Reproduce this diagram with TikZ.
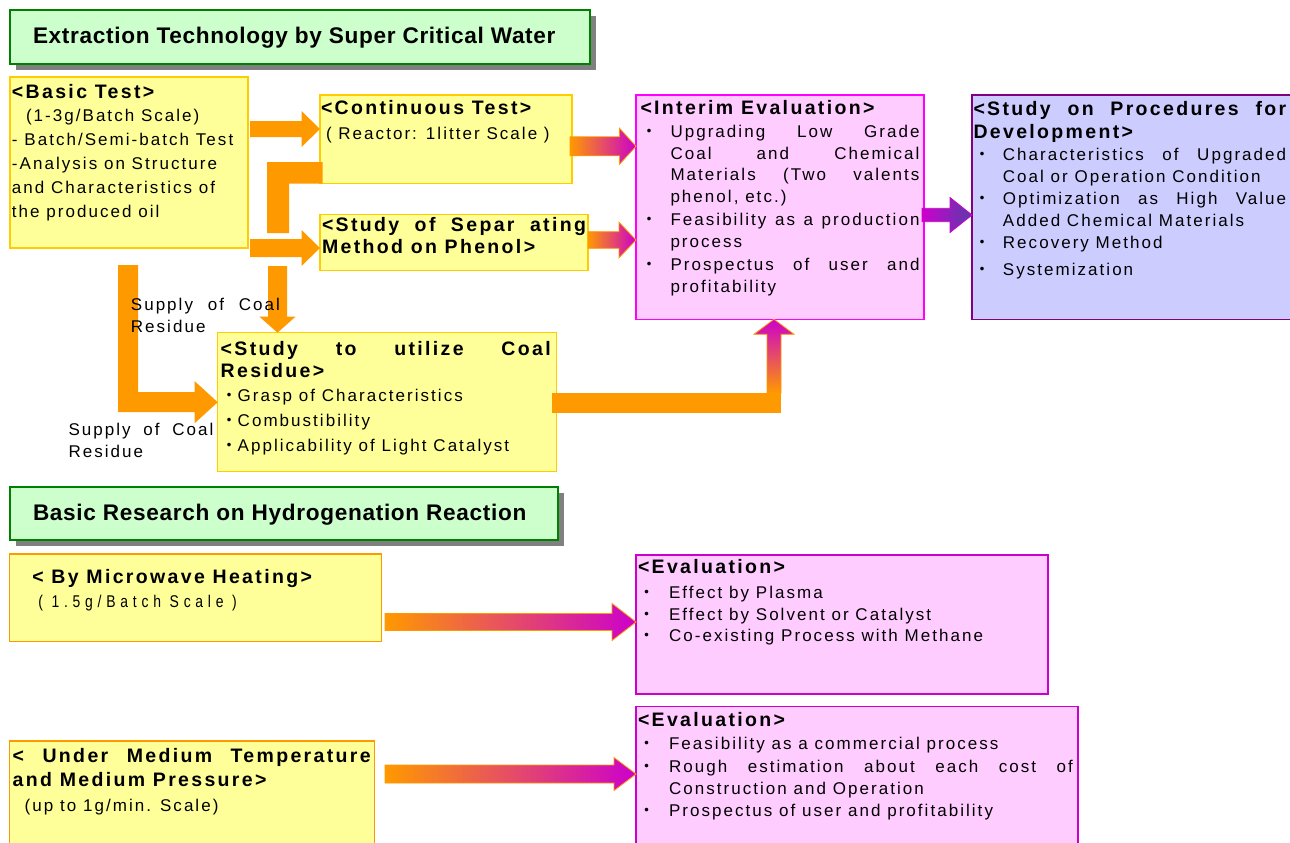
\documentclass[tikz,border=0pt]{standalone}
\usepackage{fontspec}
\setmainfont{Liberation Sans}[LetterSpace=12]
\newfontfamily\headfont{Liberation Sans}[LetterSpace=3]
\newfontfamily\spreadfont{Liberation Sans}[FakeStretch=0.82,LetterSpace=28]
\newfontfamily\cjk{Noto Sans CJK JP}
\usetikzlibrary{calc,positioning,shadows}

\definecolor{boxyellow}{HTML}{FFFF99}
\definecolor{boxgold}{HTML}{FFCC00}
\definecolor{flowor}{HTML}{FF9900}
\definecolor{boxpink}{HTML}{FFCCFF}
\definecolor{boxmagenta}{HTML}{FF00FF}
\definecolor{flowmag}{HTML}{CC00CC}
\definecolor{boxlilac}{HTML}{CCCCFF}
\definecolor{boxpurple}{HTML}{800080}
\definecolor{flowviolet}{HTML}{5A3CAA}
\definecolor{titlegreen}{HTML}{CCFFCC}
\definecolor{titleedge}{HTML}{008000}
\definecolor{shadowgray}{HTML}{808080}

\newcommand{\bul}{{\cjk ・}}
\newcommand{\bodylines}[1]{\fontsize{17pt}{#1}\selectfont}
\newcommand{\boxhead}[2][23pt]{{\fontsize{19.5pt}{#1}\selectfont\bfseries #2\par}}
\newcommand{\boxtext}[4]{\parbox[t][#1][t]{#2}{\tolerance=10000\hyphenpenalty=10000\lineskiplimit=-50pt\rule{0pt}{#3}#4}}
\newcommand{\bitem}[2]{\hangindent=#1\hangafter=1\noindent\makebox[#1][l]{\bul}#2\par}
% block arrow pointing right: style, start, tip, shaft half, head half, head length
\newcommand{\rarrow}[6]{%
  \path[#1] ($(#2)+(0,-#4)$) -- ($(#3)+(-#6,-#4)$) -- ($(#3)+(-#6,-#5)$) -- (#3)
    -- ($(#3)+(-#6,#5)$) -- ($(#3)+(-#6,#4)$) -- ($(#2)+(0,#4)$) -- cycle;}

\begin{document}
\begin{tikzpicture}[x=1pt,y=-1pt,
  panel/.style={draw,line width=1.2pt,inner ysep=0pt,outer sep=0pt,anchor=north west},
  ybox/.style={panel,fill=boxyellow,draw=boxgold},
  obox/.style={panel,fill=boxyellow,draw=flowor},
  pbox/.style={panel,fill=boxpink,draw=boxmagenta},
  ebox/.style={panel,fill=boxpink,draw=flowmag},
  lbox/.style={panel,fill=boxlilac,draw=boxpurple},
  gtitle/.style={panel,fill=titlegreen,draw=titleedge,line width=1.5pt,inner xsep=23pt,
    drop shadow={shadow xshift=6pt,shadow yshift=-6pt,fill=shadowgray,opacity=1}},
  solidflow/.style={fill=flowor},
  fadeflow/.style={left color=flowor,right color=flowmag,draw=flowor,line width=0.8pt},
  violetflow/.style={left color=flowmag,right color=flowviolet,draw=flowmag,line width=0.8pt},
  upflow/.style={bottom color=flowor,top color=flowmag,draw=flowor,line width=0.8pt},
  note/.style={inner sep=0pt,anchor=base west,font=\bodylines{22pt}}]
\useasboundingbox (0,0) rectangle (1290,843);
\clip (0,0) rectangle (1290,843);

% section titles
\node[gtitle] (title1) at (10,10) {\boxtext{54pt}{534pt}{33.3pt}{\headfont\bfseries\fontsize{22.6pt}{26pt}\selectfont Extraction Technology by Super Critical Water}};
\node[gtitle] (title2) at (10,487) {\boxtext{53pt}{502pt}{33pt}{\headfont\bfseries\fontsize{22.6pt}{26pt}\selectfont Basic Research on Hydrogenation Reaction}};

% super critical water
\node[ybox,inner xsep=2pt,font=\bodylines{23.9pt}] (basic) at (10,77) {\boxtext{171pt}{234pt}{21pt}{\boxhead[23.9pt]{<Basic Test>}\hspace*{14pt}(1-3g/Batch Scale)\newline - Batch/Semi-batch Test\newline -Analysis on Structure\newline and Characteristics of\newline the produced oil}};
\node[ybox,inner xsep=1pt,font=\bodylines{24.7pt}] (cont) at (320,95) {\boxtext{88.7pt}{250pt}{19.3pt}{\boxhead{<Continuous Test>}\hspace*{5pt}( Reactor: 1litter Scale )}};
\node[ybox,inner xsep=2pt,font=\bodylines{21.6pt}] (sep) at (320,214.7) {\boxtext{56pt}{264pt}{17pt}{\boxhead[21.6pt]{<Study of Separ ating\linebreak Method on Phenol>}}};
\node[ybox,inner xsep=3pt,font=\bodylines{24.6pt}] (coal) at (217.7,332.7) {\boxtext{139pt}{333pt}{22.3pt}{\rightskip=3pt\boxhead[22.3pt]{<Study to utilize Coal\linebreak Residue>}\bul Grasp of Characteristics\newline\bul Combustibility\newline\bul Applicability of Light Catalyst}};
\node[pbox,inner xsep=4.5pt,font=\bodylines{21.6pt}] (interim) at (636,95) {\boxtext{224.3pt}{279pt}{19.3pt}{\parskip=1.8pt\boxhead{<Interim Evaluation>}\bitem{30pt}{Upgrading Low Grade\linebreak Coal and Chemical\linebreak Materials (Two valents\linebreak phenol, etc.)}\bitem{30pt}{Feasibility as a production\linebreak process}\bitem{30pt}{Prospectus of user and\linebreak profitability}}};
\node[lbox,inner xsep=1.5pt,font=\bodylines{21.7pt}] (study) at (972,95) {\boxtext{224.3pt}{340pt}{20pt}{\rightskip=27.3pt\parskip=0.5pt\boxhead[23.3pt]{<Study on Procedures for\linebreak Development>}\bitem{29.4pt}{Characteristics of Upgraded\linebreak Coal or Operation Condition}\bitem{29.4pt}{Optimization as High Value\linebreak Added Chemical Materials}\bitem{29.4pt}{Recovery Method}\vspace{5pt}\bitem{29.4pt}{Systemization}}};

% hydrogenation
\node[obox,inner xsep=2pt,font=\bodylines{24pt}] (micro) at (9.3,554) {\boxtext{87.7pt}{368.4pt}{29.3pt}{\boxhead{\hspace*{21pt}< By Microwave Heating>}{\spreadfont\hspace*{27pt}( 1.5g/Batch Scale )}}};
\node[ebox,inner xsep=2pt,font=\bodylines{21.7pt}] (eval1) at (636,555) {\boxtext{139pt}{408pt}{18.3pt}{\boxhead[21.7pt]{<Evaluation>}\vspace{3.3pt}\bitem{31pt}{Effect by Plasma}\bitem{31pt}{Effect by Solvent or Catalyst}\bitem{31pt}{Co-existing Process with Methane}}};
\node[obox,inner xsep=3.4pt,font=\bodylines{25pt}] (medium) at (9.3,741) {\boxtext{120pt}{358pt}{21.3pt}{\boxhead[24.4pt]{< Under Medium Temperature\linebreak and Medium Pressure>}\hspace*{12pt}(up to 1g/min. Scale)}};
\node[ebox,inner xsep=2pt,font=\bodylines{21.8pt}] (eval2) at (636,706.7) {\boxtext{150pt}{438pt}{20pt}{\rightskip=3pt\parskip=1pt\boxhead{<Evaluation>}\bitem{31pt}{Feasibility as a commercial process}\bitem{31pt}{Rough estimation about each cost of\linebreak Construction and Operation}\bitem{31pt}{Prospectus of user and profitability}}};

% basic test -> continuous, separating
\coordinate (bc) at (250,129);
\rarrow{solidflow}{bc}{cont.west |- bc}{8}{18}{18.5}
\coordinate (bs) at (250,248);
\rarrow{solidflow}{bs}{sep.west |- bs}{9}{18}{18.5}

% continuous -> coal residue
\fill[solidflow] (322.7,162) -- (267,162) -- (267,233) -- (289,233) -- (289,183.7) -- (322.7,183.7) -- cycle;
\coordinate (dtop) at (277.5,266);
\fill[solidflow] ($(dtop)+(-9.5,0)$) -- ($(dtop |- coal.north)+(-9.5,-16)$) -- ($(dtop |- coal.north)+(-18,-16)$) -- (dtop |- coal.north)
  -- ($(dtop |- coal.north)+(18,-16)$) -- ($(dtop |- coal.north)+(9.5,-16)$) -- ($(dtop)+(9.5,0)$) -- cycle;

% basic test -> coal residue
\fill[solidflow] (118,265) -- (138,265) -- ($(coal.west)+(-79.7,-10)$) -- ($(coal.west)+(-23,-10)$) -- ($(coal.west)+(-23,-21)$) -- (coal.west)
  -- ($(coal.west)+(-23,21)$) -- ($(coal.west)+(-23,10)$) -- ($(coal.west)+(-99.7,10)$) -- cycle;

% coal residue -> interim
\coordinate (ubase) at (774,393);
\fill[solidflow] ($(coal.east)+(-4.7,-9.2)$) rectangle ($(ubase)+(7,20)$);
\path[upflow] ($(ubase)+(-7,0)$) -- ($(ubase |- interim.south)+(-7,15)$) -- ($(ubase |- interim.south)+(-20,15)$) -- (ubase |- interim.south)
  -- ($(ubase |- interim.south)+(20,15)$) -- ($(ubase |- interim.south)+(7,15)$) -- ($(ubase)+(7,0)$) -- cycle;

% continuous, separating -> interim -> study
\coordinate (ci) at (570,146.3);
\rarrow{fadeflow}{ci}{interim.west |- ci}{9.5}{18}{16.5}
\coordinate (si) at (588,240);
\rarrow{fadeflow}{si}{interim.west |- si}{8.3}{17.8}{17}
\coordinate (is) at (922,215);
\rarrow{violetflow}{is}{study.west |- is}{6.7}{17.5}{22}

% hydrogenation -> evaluation
\coordinate (me) at (385,622);
\rarrow{fadeflow}{me}{eval1.west |- me}{8.5}{18.5}{24}
\coordinate (te) at (385,774);
\rarrow{fadeflow}{te}{eval2.west |- te}{9}{16.5}{22}

% labels
\node[note] (supply1) at (130.7,310.7) {\parbox[t]{149pt}{\tolerance=10000 Supply of Coal\linebreak Residue}};
\node[note] (supply2) at (68.3,435.7) {\parbox[t]{145pt}{\tolerance=10000 Supply of Coal\linebreak Residue}};
\end{tikzpicture}
\end{document}
